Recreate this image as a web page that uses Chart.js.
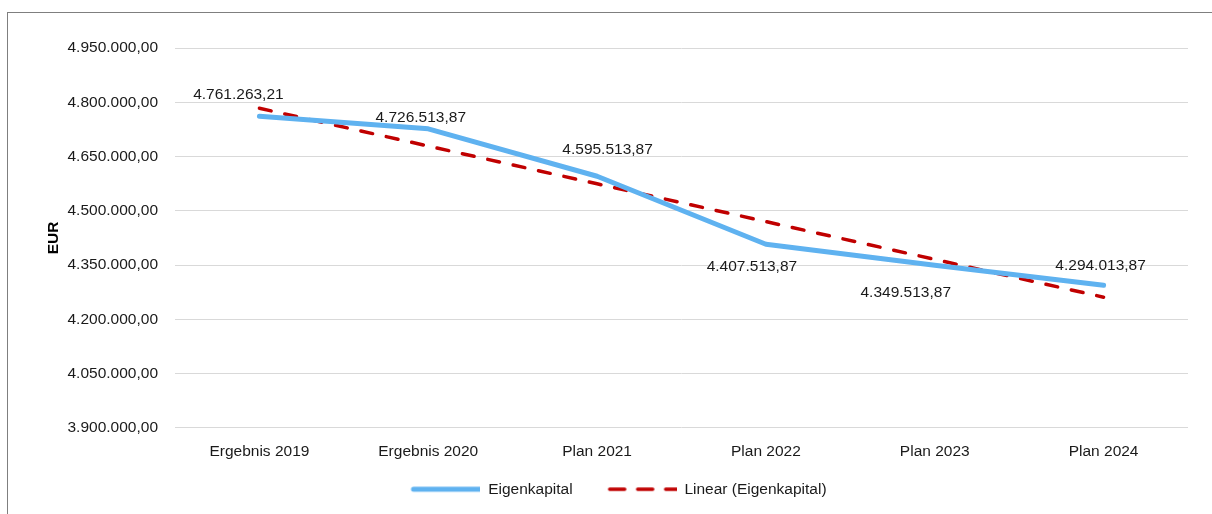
<!DOCTYPE html>
<html>
<head>
  <script src="https://cdn.jsdelivr.net/npm/chart.js@4.4.0/dist/chart.umd.min.js"></script>
  <style>
    * { margin: 0; padding: 0; box-sizing: border-box; }
    body { background: #fff; width: 1212px; height: 514px; overflow: hidden; }
    .frame {
      position: absolute;
      left: 7px;
      top: 12px;
      width: 1230px;
      height: 530px;
      border: 1px solid #7f7f7f;
    }
    .chart-box {
      position: absolute;
      left: 0;
      top: 0;
      width: 1204px;
      height: 501px;
    }
  </style>
</head>
<body>
  <div class="frame">
    <div class="chart-box">
      <canvas id="equityChart"></canvas>
    </div>
  </div>

  <script>
    const categories = ['Ergebnis 2019', 'Ergebnis 2020', 'Plan 2021', 'Plan 2022', 'Plan 2023', 'Plan 2024'];
    const equity = [4761263.21, 4726513.87, 4595513.87, 4407513.87, 4349513.87, 4294013.87];
    // trend line values
    const trend = [4783500, 4679000, 4574600, 4470200, 4365700, 4261300];
    const yTicks = [3900000, 4050000, 4200000, 4350000, 4500000, 4650000, 4800000, 4950000];

    const FONT = '"Liberation Sans", Arial, sans-serif';
    const SIZE = 15.5;
    const fmt = v => v.toLocaleString('de-DE', { minimumFractionDigits: 2, maximumFractionDigits: 2 });

    // label offsets relative to each point (px)
    const labelOffsets = [[-21, -22], [-7.5, -11.5], [10.5, -26.5], [-14, 22.5], [-29, 27.5], [-3, -20]];

    const pointLabels = {
      id: 'pointLabels',
      afterDatasetsDraw(chart) {
        const meta = chart.getDatasetMeta(0);
        const ctx = chart.ctx;
        ctx.save();
        ctx.font = SIZE + 'px ' + FONT;
        ctx.fillStyle = '#1a1a1a';
        ctx.textAlign = 'center';
        ctx.textBaseline = 'middle';
        meta.data.forEach((pt, i) => {
          const off = labelOffsets[i];
          ctx.fillText(fmt(equity[i]), pt.x + off[0], pt.y + off[1]);
        });
        ctx.restore();
      }
    };

    // small canvases used as legend samples (blank left part adds spacing)
    function sample(color, width, dash) {
      const c = document.createElement('canvas');
      c.width = 99;
      c.height = 8;
      const g = c.getContext('2d');
      g.strokeStyle = color;
      g.lineWidth = width;
      g.lineCap = 'round';
      g.setLineDash(dash);
      g.beginPath();
      g.moveTo(32, 4);
      g.lineTo(99, 4);
      g.stroke();
      return c;
    }
    const legendSamples = [sample('#5FB2F0', 5, []), sample('#C00000', 3.5, [15, 13])];

    Chart.defaults.font.family = FONT;
    Chart.defaults.font.size = SIZE;
    Chart.defaults.color = '#1a1a1a';

    new Chart(document.getElementById('equityChart'), {
      type: 'line',
      data: {
        labels: categories,
        datasets: [{
          label: 'Eigenkapital',
          data: equity,
          borderColor: '#5FB2F0',
          backgroundColor: '#5FB2F0',
          borderWidth: 5,
          borderCapStyle: 'round',
          borderJoinStyle: 'round',
          pointRadius: 0,
          tension: 0
        }, {
          label: 'Linear (Eigenkapital)',
          data: trend,
          borderColor: '#C00000',
          backgroundColor: '#C00000',
          borderWidth: 3.5,
          borderDash: [12, 14],
          borderCapStyle: 'round',
          pointRadius: 0,
          tension: 0
        }]
      },
      options: {
        responsive: true,
        maintainAspectRatio: false,
        animation: false,
        layout: { padding: { top: 35, right: 12, left: 0, bottom: 7 } },
        scales: {
          x: {
            offset: true,
            grid: { display: false, drawTicks: false },
            border: { display: false },
            ticks: { padding: 15, color: '#1a1a1a' }
          },
          y: {
            min: 3900000,
            max: 4950000,
            afterBuildTicks(scale) {
              scale.ticks = yTicks.map(v => ({ value: v }));
            },
            afterFit(scale) { scale.width = 167; },
            grid: { color: '#d9d9d9', lineWidth: 1, drawTicks: false },
            border: { display: false },
            ticks: { padding: 17, color: '#1a1a1a', callback: v => fmt(v) },
            title: {
              display: true,
              text: 'EUR',
              color: '#000',
              font: { weight: 'bold', size: SIZE },
              padding: { top: 36, bottom: 0 }
            }
          },
          // empty right-hand spacer
          yRight: {
            position: 'right',
            afterFit(scale) { scale.width = 12; },
            grid: { display: false, drawTicks: false },
            border: { display: false },
            ticks: { display: false }
          }
        },
        plugins: {
          legend: {
            position: 'bottom',
            labels: {
              usePointStyle: true,
              pointStyleWidth: 99,
              padding: 5,
              color: '#1a1a1a',
              generateLabels(chart) {
                return chart.data.datasets.map((ds, i) => ({
                  text: ds.label,
                  pointStyle: legendSamples[i],
                  datasetIndex: i,
                  hidden: false,
                  fontColor: '#1a1a1a'
                }));
              }
            }
          },
          tooltip: { enabled: false }
        }
      },
      plugins: [pointLabels]
    });
  </script>
</body>
</html>
